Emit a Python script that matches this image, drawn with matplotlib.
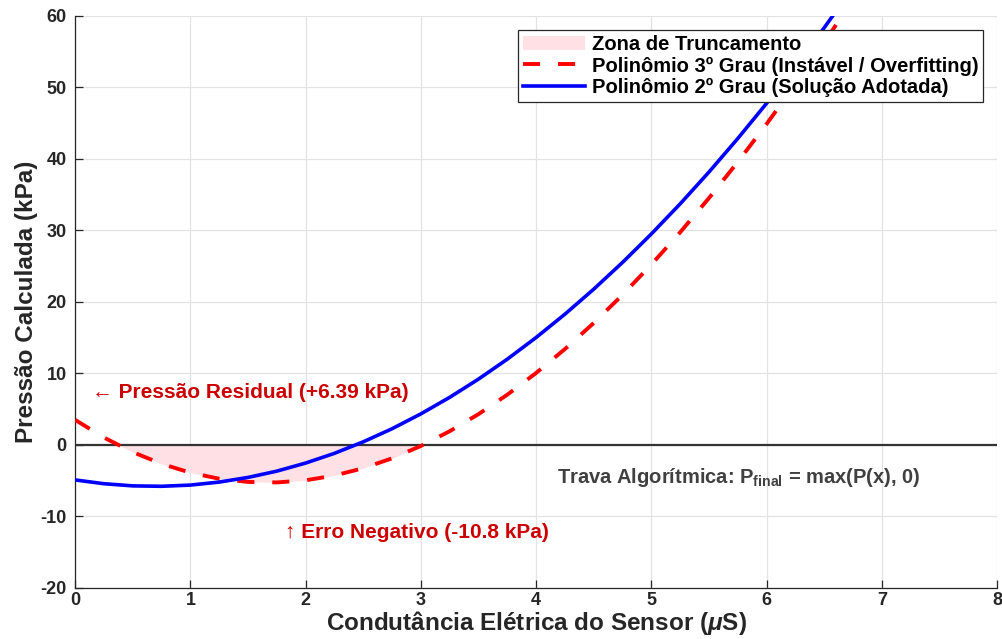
import matplotlib
matplotlib.use("Agg")
import matplotlib.pyplot as plt

plt.rcParams['font.family'] = ['Liberation Sans', 'DejaVu Sans']
plt.rcParams['font.weight'] = 'bold'
plt.rcParams['axes.unicode_minus'] = False
plt.rcParams['mathtext.fontset'] = 'custom'
plt.rcParams['mathtext.rm'] = 'Liberation Sans:bold'
plt.rcParams['mathtext.bf'] = 'Liberation Sans:bold'
plt.rcParams['mathtext.it'] = 'Liberation Sans:italic'

# conductance (uS) sample points
x_vals = [0.0, 0.25, 0.5, 0.75, 1.0, 1.25, 1.5, 1.75, 2.0, 2.25, 2.5, 2.75,
          3.0, 3.25, 3.5, 3.75, 4.0, 4.25, 4.5, 4.75, 5.0, 5.25, 5.5, 5.75,
          6.0, 6.25, 6.5, 6.75]

# 3rd degree polynomial (red dashed)
p3_vals = [3.50, 1.03, -1.01, -2.65, -3.89, -4.73, -5.18, -5.25, -4.95, -4.29,
           -3.26, -1.88, -0.15, 1.91, 4.30, 7.02, 10.06, 13.40, 17.05, 20.99,
           25.22, 29.73, 34.52, 39.57, 44.88, 50.45, 56.26, 62.31]

# 2nd degree polynomial (blue)
p2_vals = [-4.90, -5.43, -5.73, -5.79, -5.62, -5.20, -4.55, -3.67, -2.54, -1.18,
           0.43, 2.26, 4.34, 6.65, 9.20, 11.99, 15.02, 18.28, 21.78, 25.52,
           29.50, 33.71, 38.16, 42.85, 47.77, 52.94, 58.34, 63.98]

x_ticks = [0, 1, 2, 3, 4, 5, 6, 7, 8]
y_ticks = [-20, -10, 0, 10, 20, 30, 40, 50, 60]

fig = plt.figure(figsize=(10.02, 6.39), dpi=100)
ax = fig.add_axes([0.075, 0.080, 0.920, 0.895])

below = [v < 0 for v in p3_vals]
ax.fill_between(x_vals, p3_vals, 0, where=below, interpolate=True,
                color='#ffe0e4', linewidth=0, label='Zona de Truncamento', zorder=1)

ax.axhline(0, color='#333333', linewidth=1.6, zorder=2)

ax.plot(x_vals, p3_vals, color='#ff0000', linewidth=2.8,
        linestyle=(0, (4.4, 4.6)), label='Polinômio 3º Grau (Instável / Overfitting)',
        zorder=3)
ax.plot(x_vals, p2_vals, color='#0000ff', linewidth=2.6,
        label='Polinômio 2º Grau (Solução Adotada)', zorder=4)

ax.set_xlim(0, 8)
ax.set_ylim(-20, 60)
ax.set_xticks(x_ticks)
ax.set_yticks(y_ticks)
ax.tick_params(direction='in', length=6, width=0.9, labelsize=13,
               colors='#262626')
ax.tick_params(axis='x', pad=3)
ax.tick_params(axis='y', pad=6)
for lab in ax.get_xticklabels() + ax.get_yticklabels():
    lab.set_fontweight('bold')

ax.grid(True, color='#e3e3e3', linewidth=0.9)
ax.set_axisbelow(True)
for side in ['top', 'right']:
    ax.spines[side].set_visible(False)
for side in ['left', 'bottom']:
    ax.spines[side].set_color('#262626')
    ax.spines[side].set_linewidth(0.9)

ax.set_xlabel(r'Condutância Elétrica do Sensor ($\mu$S)', fontsize=17.5,
              fontweight='bold', color='#262626', labelpad=0)
ax.set_ylabel('Pressão Calculada (kPa)', fontsize=17.5, fontweight='bold',
              color='#262626', labelpad=2)

ax.text(0.15, 7.3, '← Pressão Residual (+6.39 kPa)', color='#cc0000',
        fontsize=15, fontweight='bold', va='center', ha='left')
ax.text(1.82, -12.3, '↑ Erro Negativo (-10.8 kPa)', color='#cc0000',
        fontsize=15, fontweight='bold', va='center', ha='left')
ax.text(4.18, -4.6, r'Trava Algorítmica: P$_{\mathbf{final}}$ = max(P(x), 0)',
        color='#404040', fontsize=14.5, fontweight='bold', va='center', ha='left')

leg = ax.legend(loc='upper right', bbox_to_anchor=(0.985, 0.9755),
                fontsize=14.5, frameon=True, fancybox=False, framealpha=1,
                edgecolor='#262626', handlelength=3.1, borderpad=0.25,
                labelspacing=0.12, handletextpad=0.3, borderaxespad=0)
leg.get_frame().set_linewidth(0.9)
for t in leg.get_texts():
    t.set_fontweight('bold')

fig.savefig('out.png', dpi=100)
